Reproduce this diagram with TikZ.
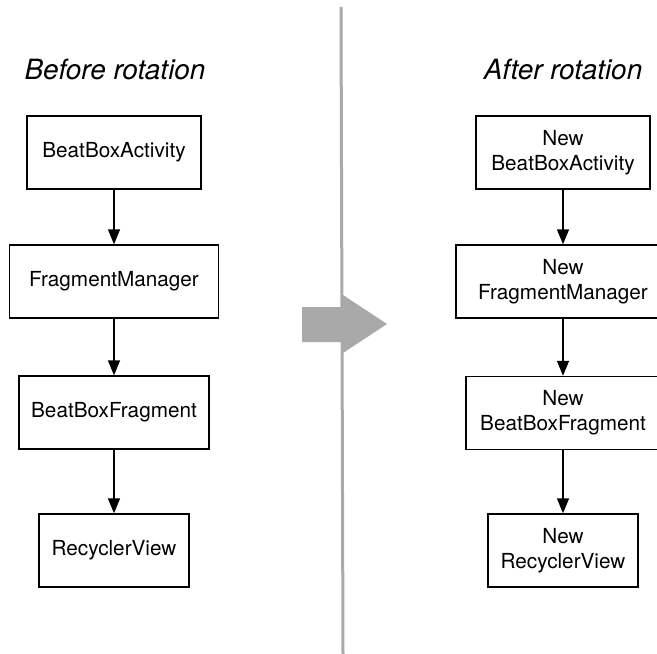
\documentclass[tikz,border=0pt]{standalone}
\usepackage{fontspec}
\setmainfont{TeX Gyre Heros}
\usetikzlibrary{arrows.meta}
\definecolor{divgray}{HTML}{A9A9A9}
\tikzset{
    classbox/.style={draw=black, line width=1.4bp, fill=white, align=center,
        minimum height=73bp, inner sep=2bp, font=\fontsize{20.8}{25}\selectfont},
    title/.style={font=\fontsize{28}{30}\selectfont\itshape},
    link/.style={-{Triangle[width=12bp,length=15bp]}, line width=1.4bp}
}
\begin{document}
\begin{tikzpicture}[x=1bp,y=-1bp]
        \useasboundingbox (0,0) rectangle (657,654);
        % Divider and rotation arrow
        \draw[divgray, line width=3bp] (341,7) -- (343,654);
        \fill[divgray] (302,307) -- (343,307) -- (343,295) -- (387,324)
            -- (343,353) -- (343,342) -- (302,342) -- cycle;
        % Before rotation
        \begin{scope}
            \node[title] (before) at (115,69) {Before rotation};
            \node[classbox, minimum width=174bp] (act) at (114,152.5) {BeatBoxActivity};
            \node[classbox, minimum width=209bp] (fm) at (114,281.5) {FragmentManager};
            \node[classbox, minimum width=190bp] (frag) at (114,412.5) {BeatBoxFragment};
            \node[classbox, minimum width=150bp] (rv) at (114,550.5) {RecyclerView};
            \draw[link] (act) -- (fm);
            \draw[link] (fm) -- (frag);
            \draw[link] (frag) -- (rv);
        \end{scope}
        % After rotation
        \begin{scope}
            \node[title] (after) at (563,69) {After rotation};
            \node[classbox, minimum width=174bp] (nact) at (563,152.5) {New\\BeatBoxActivity};
            \node[classbox, minimum width=214bp] (nfm) at (563,281.5) {New\\FragmentManager};
            \node[classbox, minimum width=194bp] (nfrag) at (563,413) {New\\BeatBoxFragment};
            \node[classbox, minimum width=150bp] (nrv) at (563,550.5) {New\\RecyclerView};
            \draw[link] (nact) -- (nfm);
            \draw[link] (nfm) -- (nfrag);
            \draw[link] (nfrag) -- (nrv);
        \end{scope}
    \end{tikzpicture}
\end{document}
